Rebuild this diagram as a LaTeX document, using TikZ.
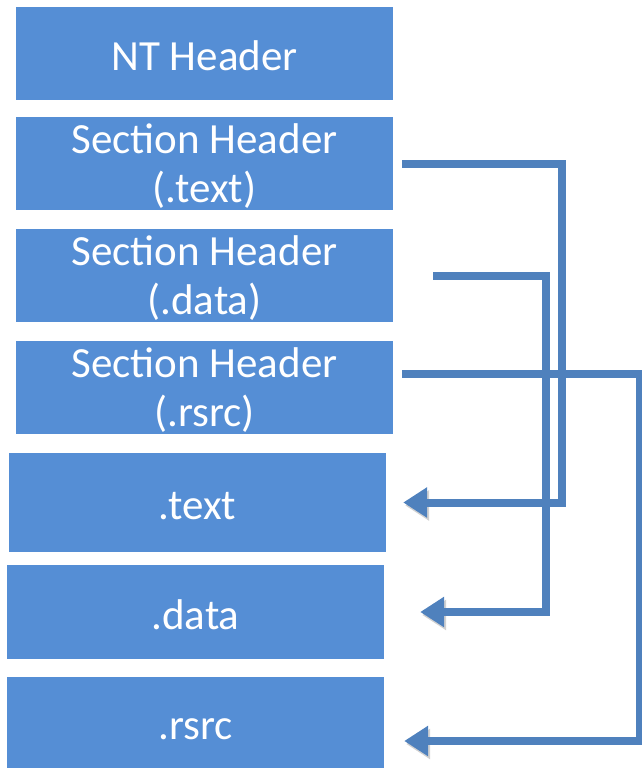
\documentclass[tikz,border=0pt]{standalone}
\usepackage{fontspec}
\setmainfont{Carlito}
\usetikzlibrary{arrows.meta}
\definecolor{boxblue}{HTML}{558ED5}
\definecolor{linkblue}{HTML}{4F81BD}
\tikzset{
    block/.style = {fill=boxblue, rectangle, text=white,
        minimum height=93pt,
        minimum width=377pt, inner sep=0pt, align=center,
        text depth=1pt,
        font=\fontsize{43}{49}\selectfont},
    single/.style = {text height=34pt, text depth=0pt},
    link/.style = {draw=linkblue, line width=8pt,
        -{Triangle[length=24pt,width=29pt]},
        preaction={draw=black!18, transform canvas={shift={(2pt,-3pt)}}}}
}

\begin{document}
\begin{tikzpicture}[x=1pt, y=-1pt]
    \useasboundingbox (0,0) rectangle (642,768);
    % headers
    \node [block,single] (nt) at (204.5,53.5) {NT Header};
    \node [block] (shtext) at (204.5,163.5) {Section Header\\(.text)};
    \node [block] (shdata) at (204.5,275.5) {Section Header\\(.data)};
    \node [block] (shrsrc) at (204.5,387.5) {Section Header\\(.rsrc)};
    % sections
    \node [block,single, minimum height=99pt] (text) at (197.5,502.5) {.text};
    \node [block,single, minimum height=94pt] (data) at (195.5,612) {.data};
    \node [block,single, minimum height=91pt] (rsrc) at (195.5,722.5) {.rsrc};
    % pointers
    \draw [link] ([xshift=9pt]shtext.east) -- ++(160,0) |- ([xshift=17pt]text.east);
    \draw [link] ([xshift=40pt]shdata.east) -- ++(113,0) |- ([xshift=36pt]data.east);
    \draw [link] ([xshift=9pt,yshift=14pt]shrsrc.east) -- ++(238,0) |- ([xshift=20pt,yshift=-18.5pt]rsrc.east);
\end{tikzpicture}
\end{document}
